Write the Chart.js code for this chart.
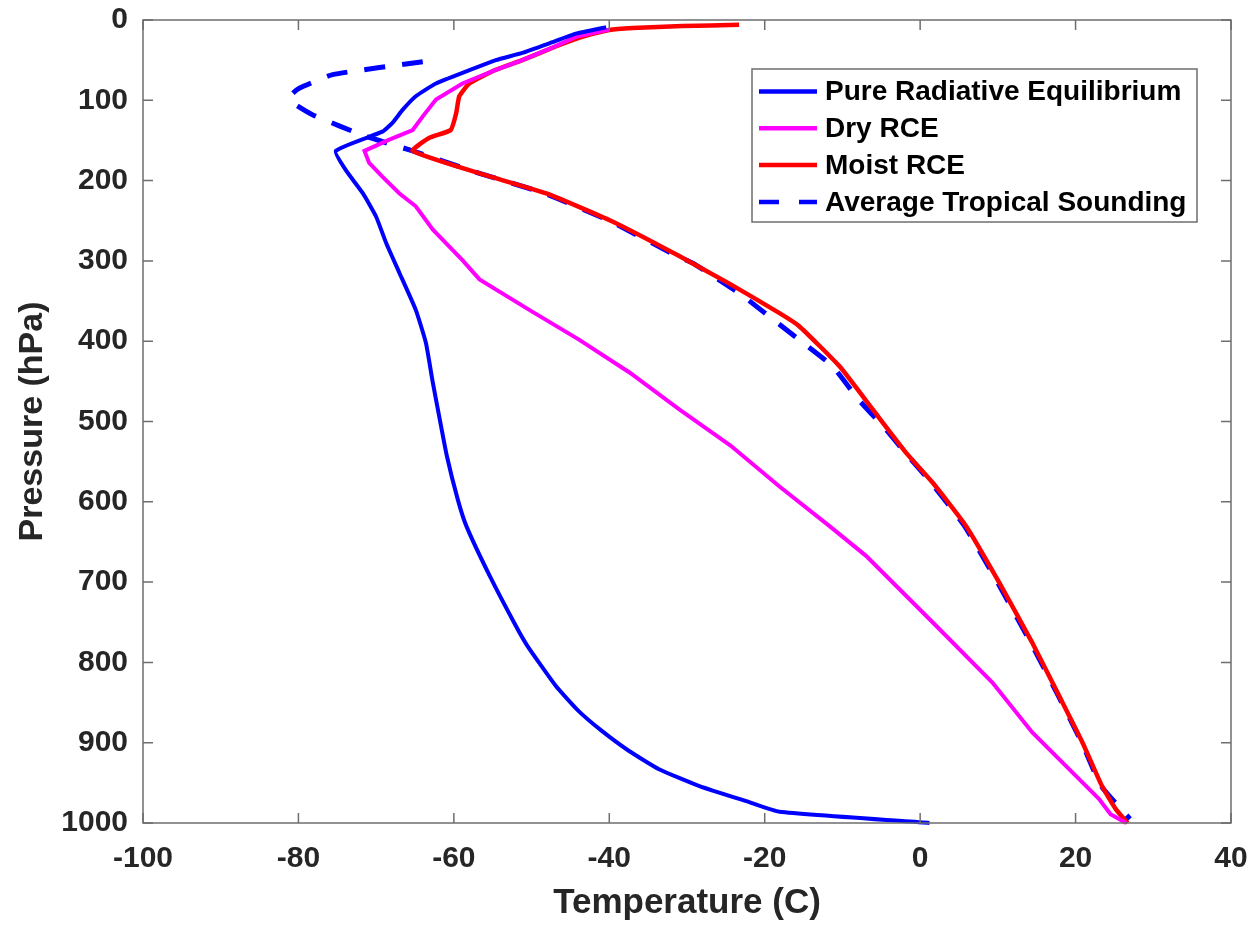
<!DOCTYPE html>
<html><head><meta charset="utf-8">
<script src="https://cdn.jsdelivr.net/npm/chart.js@4/dist/chart.umd.min.js"></script>
<style>html,body{margin:0;padding:0;background:#fff;}#wrap{width:1256px;height:927px;position:relative;}</style>
</head><body><div id="wrap"><canvas id="c" width="1256" height="927"></canvas></div>
<script>
// ---- data (temperature in C vs pressure in hPa) ----
const seriesNames = ['Pure Radiative Equilibrium', 'Dry RCE', 'Moist RCE', 'Average Tropical Sounding'];

const pureRadP = [9,17,29,41,50,64,79,95,112,128,139,163,187,216,245,278,315,361,402,452,493,543,597,630,692,755,780,829,860,885,910,933,954,974,986,1000];
const pureRadT = [-40.4,-44.3,-47.7,-51.2,-54.6,-58.4,-62.3,-64.9,-66.6,-67.9,-69.2,-75.2,-73.9,-71.7,-70,-68.7,-67,-64.9,-63.6,-62.7,-61.9,-60.9,-59.5,-58.4,-55.4,-52,-50.5,-46.9,-44,-41,-37.5,-33.6,-28.4,-22,-18.1,1.2];

const dryP = [12,21,35,50,62,79,99,120,137,149,163,178,195,216,232,261,299,323,361,398,439,485,530,581,630,667,750,825,887,970,989,1000];
const dryT = [-40,-44.3,-47.5,-51.2,-54.6,-58.9,-62.3,-64,-65.3,-68.3,-71.5,-70.9,-69.2,-67,-64.9,-62.7,-58.9,-56.7,-50.3,-43.9,-37.4,-31,-24.4,-18.1,-11.7,-7,1.6,9.3,14.4,23,24.5,26.5];

const moistP = [6,7.5,10,12.4,21,33,50,62,79,95,116,137,147,163,191,216,251,294,328,365,381,431,485,539,576,630,701,775,842,900,954,983,1000];
const moistT = [-23.3,-30.6,-37,-40,-43.5,-46.9,-51.2,-54.6,-58,-59.3,-59.7,-60.4,-63.2,-65.3,-56.7,-48.1,-39.6,-31,-24.6,-18.1,-15.6,-10.4,-6.1,-1.8,1.6,5.9,10.2,14.4,17.9,20.9,23.4,25.2,26.7];

const soundingP = [52,68,85,92,100,106,118,145,163,191,216,251,294,303,340,361,398,431,473,510,539,576,630,701,775,842,900,954,995];
const soundingT = [-64,-75.6,-79.9,-80.8,-81,-80.3,-78.2,-71.3,-65.3,-56.7,-48.3,-39.8,-31.3,-29.2,-23.3,-20.5,-15.6,-11.3,-7.9,-4.4,-1.9,1.4,5.7,10,14.2,17.8,20.8,23.3,27];

const xTickValues = [-100,-80,-60,-40,-20,0,20,40];
const yTickValues = [0,100,200,300,400,500,600,700,800,900,1000];

const toPts = (T, P) => T.map((t, i) => ({x: t, y: P[i]}));

const FONT = "'Liberation Sans', Arial, sans-serif";
const AXIS_COLOR = '#6e6e6e';
const TEXT_COLOR = '#262626';

const boxPlugin = {
  id: 'matlabBox',
  afterDatasetsDraw(chart) {
    const {ctx, chartArea: a, scales: {x, y}} = chart;
    ctx.save();
    ctx.strokeStyle = AXIS_COLOR;
    ctx.lineWidth = 1.5;
    ctx.strokeRect(a.left, a.top, a.right - a.left, a.bottom - a.top);
    const L = 10;
    ctx.beginPath();
    x.ticks.forEach(t => {
      const px = x.getPixelForValue(t.value);
      ctx.moveTo(px, a.bottom); ctx.lineTo(px, a.bottom - L);
      ctx.moveTo(px, a.top); ctx.lineTo(px, a.top + L);
    });
    y.ticks.forEach(t => {
      const py = y.getPixelForValue(t.value);
      ctx.moveTo(a.left, py); ctx.lineTo(a.left + L, py);
      ctx.moveTo(a.right, py); ctx.lineTo(a.right - L, py);
    });
    ctx.stroke();
    ctx.restore();
  }
};

const legendPlugin = {
  id: 'matlabLegend',
  afterDraw(chart) {
    const {ctx, chartArea: a} = chart;
    const bw = 445, bh = 153;
    const bx = a.right - 34 - bw, by = a.top + 49;
    ctx.save();
    ctx.fillStyle = '#fff';
    ctx.fillRect(bx, by, bw, bh);
    ctx.strokeStyle = AXIS_COLOR;
    ctx.lineWidth = 1.5;
    ctx.strokeRect(bx, by, bw, bh);
    chart.data.datasets.forEach((ds, i) => {
      const ly = by + 22.5 + i * 36.8;
      ctx.beginPath();
      ctx.strokeStyle = ds.borderColor;
      ctx.lineWidth = 4.5;
      ctx.lineCap = 'butt';
      ctx.setLineDash(ds.borderDash && ds.borderDash.length ? [20, 20] : []);
      ctx.moveTo(bx + 7, ly); ctx.lineTo(bx + 65, ly);
      ctx.stroke();
      ctx.setLineDash([]);
      ctx.fillStyle = '#000';
      ctx.font = 'bold 28px ' + FONT;
      ctx.textBaseline = 'middle';
      ctx.textAlign = 'left';
      ctx.fillText(ds.label, bx + 73, ly + 1);
    });
    ctx.restore();
  }
};

new Chart(document.getElementById('c'), {
  type: 'scatter',
  data: {
    datasets: [
      {label: seriesNames[0], data: toPts(pureRadT, pureRadP), borderColor: '#0000ff', borderWidth: 4, showLine: true, pointRadius: 0, tension: 0.15, clip: false},
      {label: seriesNames[1], data: toPts(dryT, dryP), borderColor: '#ff00ff', borderWidth: 4, showLine: true, pointRadius: 0, tension: 0, clip: false},
      {label: seriesNames[2], data: toPts(moistT, moistP), borderColor: '#ff0000', borderWidth: 4.5, showLine: true, pointRadius: 0, tension: 0.15, clip: false},
      {label: seriesNames[3], data: toPts(soundingT, soundingP), borderColor: '#0000ff', borderWidth: 5, borderDash: [21, 17], showLine: true, pointRadius: 0, tension: 0.15, clip: false}
    ]
  },
  options: {
    responsive: false,
    animation: false,
    devicePixelRatio: 1,
    layout: {padding: {left: 0, top: 20, right: 25, bottom: 0}},
    plugins: {legend: {display: false}, tooltip: {enabled: false}},
    scales: {
      x: {
        type: 'linear', position: 'bottom', min: -100, max: 40,
        afterBuildTicks: s => { s.ticks = xTickValues.map(v => ({value: v})); },
        afterFit: s => { s.height = 104; s.paddingLeft = 0; s.paddingRight = 0; },
        grid: {display: false, drawTicks: false},
        border: {display: false},
        ticks: {font: {family: FONT, size: 30, weight: 'bold'}, color: TEXT_COLOR, padding: 18, maxRotation: 0, autoSkip: false, callback: v => String(v)},
        title: {display: true, text: 'Temperature (C)', font: {family: FONT, size: 35, weight: 'bold'}, color: TEXT_COLOR, padding: {top: 0, bottom: 3}}
      },
      y: {
        type: 'linear', position: 'left', min: 0, max: 1000, reverse: true,
        afterBuildTicks: s => { s.ticks = yTickValues.map(v => ({value: v})); },
        afterFit: s => { s.width = 143; s.paddingTop = 0; s.paddingBottom = 0; },
        grid: {display: false, drawTicks: false},
        border: {display: false},
        ticks: {font: {family: FONT, size: 30, weight: 'bold'}, color: TEXT_COLOR, padding: 15, autoSkip: false, callback: v => String(v)},
        title: {display: true, text: 'Pressure (hPa)', font: {family: FONT, size: 34, weight: 'bold'}, color: TEXT_COLOR, padding: {top: 12, bottom: 0}}
      }
    }
  },
  plugins: [boxPlugin, legendPlugin]
});
</script></body></html>
